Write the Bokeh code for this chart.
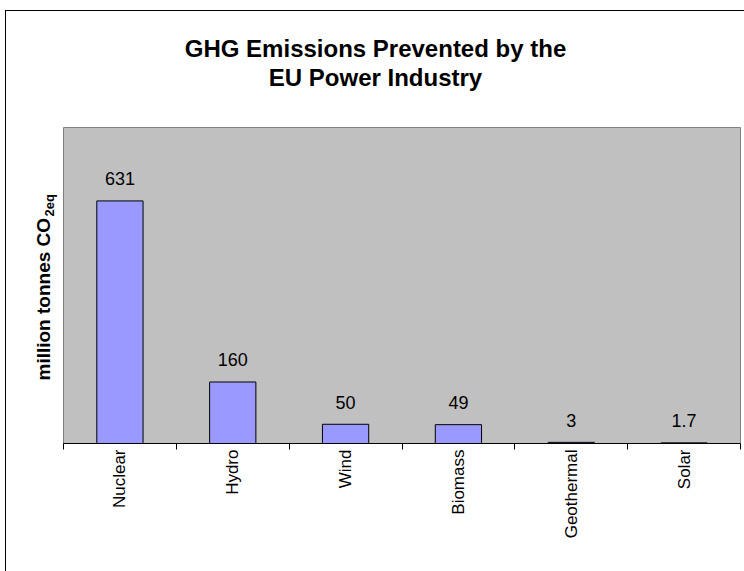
import numpy as np
from math import pi
from bokeh.plotting import figure
from bokeh.layouts import column, row
from bokeh.models import Range1d, FixedTicker, ColumnDataSource
from bokeh.core.properties import value
from bokeh.embed import file_html
from bokeh.resources import INLINE

# ---- data ----
categories = ["Nuclear", "Hydro", "Wind", "Biomass", "Geothermal", "Solar"]
emissions = [631, 160, 50, 49, 3, 1.7]
value_labels = ["631", "160", "50", "49", "3", "1.7"]
title_lines = ["GHG Emissions Prevented by the", "EU Power Industry"]
y_label_main = "million tonnes CO"
y_label_sub = "2eq"

FONT = "Liberation Sans"


def blank(w, h, bottom=0, yr=None):
    f = figure(width=w, height=h, output_backend="svg", toolbar_location=None, title=None,
               x_range=Range1d(0, w), y_range=Range1d(0, yr if yr else h),
               min_border_left=0, min_border_right=0, min_border_top=0, min_border_bottom=bottom)
    f.axis.visible = False
    f.grid.visible = False
    f.outline_line_color = None
    f.background_fill_color = "white"
    f.border_fill_color = "white"
    return f


# ---- title strip ----
tf = blank(738, 116)
tf.text(x=[369, 369], y=[79, 50], text=title_lines, text_font=value(FONT),
        text_font_size="24px", text_font_style="bold", text_align="center",
        text_baseline="alphabetic", text_color="black")

# ---- y label strip (frame aligned with the plot area) ----
lf = blank(57, 444, bottom=128, yr=316)
lf.text(x=[37], y=[63], text=[y_label_main], angle=pi / 2, text_font=value(FONT),
        text_font_size="19px", text_font_style="bold", text_align="left",
        text_baseline="middle", text_color="black")
lf.text(x=[43], y=[227], text=[y_label_sub], angle=pi / 2, text_font=value(FONT),
        text_font_size="13px", text_font_style="bold", text_align="left",
        text_baseline="middle", text_color="black")

# ---- main chart ----
centers = [i + 0.5 for i in range(len(categories))]
src = ColumnDataSource(dict(x=centers, top=emissions, lab=value_labels))

p = figure(width=681, height=444, output_backend="svg", toolbar_location=None, title=None,
           x_range=Range1d(0, len(categories)), y_range=Range1d(0, 822),
           min_border_left=0, min_border_right=4, min_border_top=0, min_border_bottom=128)
p.background_fill_color = "#C0C0C0"
p.border_fill_color = "white"
p.outline_line_color = "#808080"
p.outline_line_width = 1
p.grid.visible = False
p.yaxis.visible = False

ax = p.xaxis[0]
ax.ticker = FixedTicker(ticks=centers, minor_ticks=list(range(len(categories) + 1)))
ax.major_label_overrides = {c: n for c, n in zip(centers, categories)}
ax.major_label_orientation = pi / 2
ax.major_tick_in = 0
ax.major_tick_out = 0
ax.minor_tick_in = 0
ax.minor_tick_out = 6
ax.minor_tick_line_color = "black"
ax.axis_line_color = "black"
ax.major_label_standoff = 0
ax.major_label_text_font = FONT
ax.major_label_text_font_size = "17px"
ax.major_label_text_color = "black"

p.vbar(x="x", top="top", width=0.41, bottom=0, source=src,
       fill_color="#9999FF", line_color="black", line_width=1)

p.text(x="x", y="top", text="lab", source=src, text_font=value(FONT),
       text_font_size="18px", text_align="center", text_baseline="alphabetic",
       y_offset=-22, text_color="black")

layout = column(tf, row(lf, p), spacing=0)
layout.styles = {"margin-left": "5px", "margin-top": "10px",
                 "border-left": "1px solid black", "border-top": "1px solid black"}

open("out.html", "w").write(file_html(layout, INLINE))
